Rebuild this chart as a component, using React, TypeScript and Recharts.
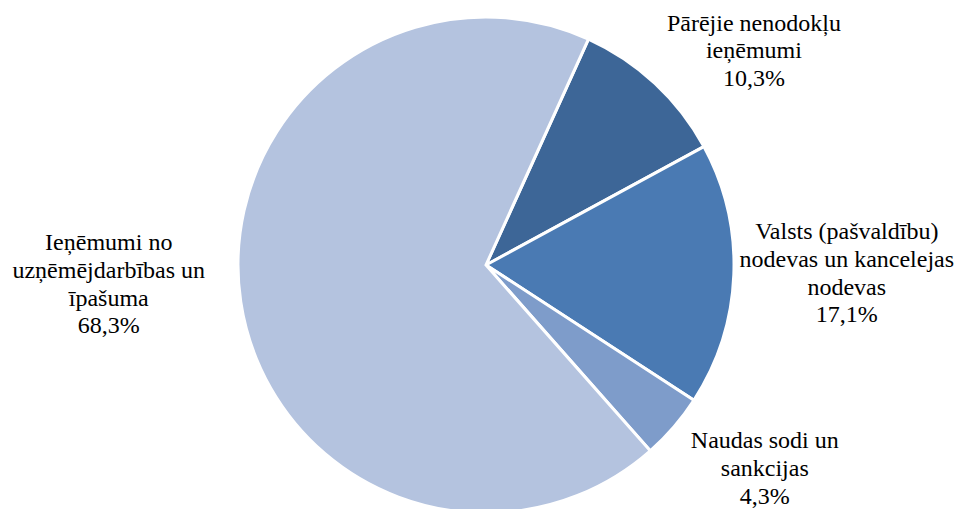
import React from 'react';
import { PieChart, Pie, Cell } from 'recharts';

// slices in clockwise order, starting at the top right
const categories = [
  ['Pārējie nenodokļu', 'ieņēmumi'],
  ['Valsts (pašvaldību)', 'nodevas un kancelejas', 'nodevas'],
  ['Naudas sodi un', 'sankcijas'],
  ['Ieņēmumi no', 'uzņēmējdarbības un', 'īpašuma'],
];
const shares = [10.3, 17.1, 4.3, 68.3];
const shareLabels = ['10,3%', '17,1%', '4,3%', '68,3%'];

const colors = ['#3D6697', '#4A7AB3', '#7E9CCA', '#B4C3DF'];
// label block centre, relative to the slice's outer edge at midAngle
const labelNudge = [
  [99, -33],
  [113, -2],
  [91, 41],
  [-132, -18],
];

const data = categories.map((lines, i) => ({
  name: lines.join(' '),
  value: shares[i],
  lines: [...lines, shareLabels[i]],
}));

const RAD = Math.PI / 180;
const LINE_H = 27.7;
const SERIF = "'Liberation Serif', 'Times New Roman', serif";

const renderLabel = (props: any) => {
  const { cx, cy, midAngle, outerRadius, index } = props;
  const ex = cx + outerRadius * Math.cos(-midAngle * RAD);
  const ey = cy + outerRadius * Math.sin(-midAngle * RAD);
  const x = ex + labelNudge[index][0];
  const y = ey + labelNudge[index][1];
  const lines: string[] = data[index].lines;
  const top = y - ((lines.length - 1) / 2) * LINE_H;
  return (
    <text
      key={index}
      x={x}
      y={top}
      textAnchor="middle"
      dominantBaseline="central"
      fill="#000"
      style={{ fontFamily: SERIF, fontSize: 24 }}
    >
      {lines.map((l, i) => (
        <tspan key={i} x={x} y={top + i * LINE_H}>
          {l}
        </tspan>
      ))}
    </text>
  );
};

const START = 65.6;

export default function App() {
  return (
    <div style={{ width: 961, height: 509, background: '#fff', fontFamily: SERIF }}>
      <style>{'body{margin:0}'}</style>
      <PieChart width={961} height={509} margin={{ top: 0, right: 0, bottom: 0, left: 0 }}>
        <Pie
          data={data}
          dataKey="value"
          cx={486}
          cy={265}
          outerRadius={248}
          startAngle={START}
          endAngle={START - 360}
          stroke="#fff"
          strokeWidth={3}
          label={renderLabel}
          labelLine={false}
          isAnimationActive={false}
        >
          {data.map((d, i) => (
            <Cell key={d.name} fill={colors[i]} />
          ))}
        </Pie>
      </PieChart>
    </div>
  );
}
